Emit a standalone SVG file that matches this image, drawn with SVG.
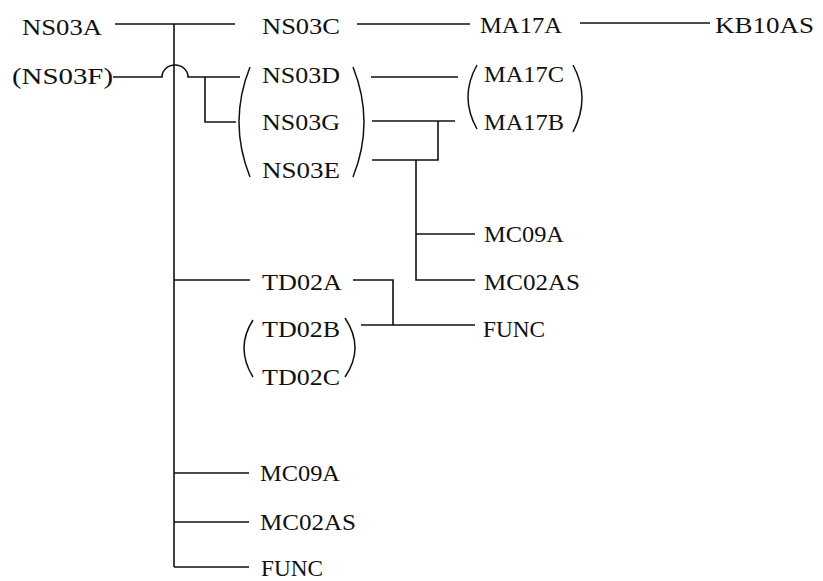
<svg xmlns="http://www.w3.org/2000/svg" width="823" height="581" viewBox="0 0 823 581">
<style>
text{font-family:"Liberation Serif","Times New Roman",serif;font-size:24px;fill:#111}
.c{fill:none;stroke:#111;stroke-width:1.6}
.p{fill:none;stroke:#111;stroke-width:1.5}
</style>
<rect width="823" height="581" fill="#fff"/>
<g id="connectors">
<path class="c" d="M174 24V567"/>
<path class="c" d="M115 24H235"/>
<path class="c" d="M357 24H470"/>
<path class="c" d="M580 23H710"/>
<path class="c" d="M113 77H162A13 12 0 0 1 188 77H240"/>
<path class="c" d="M205 77V122H236"/>
<path class="c" d="M371 77H458"/>
<path class="c" d="M372 121H455"/>
<path class="c" d="M438 121V160H372"/>
<path class="c" d="M416 160V280H475"/>
<path class="c" d="M416 234H475"/>
<path class="c" d="M174 280H250"/>
<path class="c" d="M353 280H393V325"/>
<path class="c" d="M361 325H475"/>
<path class="c" d="M174 473H249"/>
<path class="c" d="M174 522H249"/>
<path class="c" d="M174 567H249"/>
</g>
<g id="NS03A"><text x="22" y="35" textLength="80" lengthAdjust="spacingAndGlyphs">NS03A</text></g>
<g id="NS03F"><text x="12" y="84" textLength="101" lengthAdjust="spacingAndGlyphs">(NS03F)</text></g>
<g id="NS03C"><text x="262" y="34" textLength="78" lengthAdjust="spacingAndGlyphs">NS03C</text></g>
<g id="MA17A"><text x="480" y="33" textLength="82" lengthAdjust="spacingAndGlyphs">MA17A</text></g>
<g id="KB10AS"><text x="715" y="33" textLength="99" lengthAdjust="spacingAndGlyphs">KB10AS</text></g>
<g id="NS03DGE">
<path class="p" d="M250 67Q228 122 250 177"/>
<path class="p" d="M353 67Q375 122 353 177"/>
<text x="262" y="83" textLength="78" lengthAdjust="spacingAndGlyphs">NS03D</text>
<text x="262" y="130" textLength="78" lengthAdjust="spacingAndGlyphs">NS03G</text>
<text x="262" y="178" textLength="78" lengthAdjust="spacingAndGlyphs">NS03E</text>
</g>
<g id="MA17CB">
<path class="p" d="M477 65Q459 97 477 129"/>
<path class="p" d="M573 65Q591 98 573 132"/>
<text x="484" y="82" textLength="80" lengthAdjust="spacingAndGlyphs">MA17C</text>
<text x="484" y="130" textLength="80" lengthAdjust="spacingAndGlyphs">MA17B</text>
</g>
<g id="MC09A-r"><text x="484" y="242" textLength="80" lengthAdjust="spacingAndGlyphs">MC09A</text></g>
<g id="MC02AS-r"><text x="484" y="290" textLength="96" lengthAdjust="spacingAndGlyphs">MC02AS</text></g>
<g id="TD02A"><text x="262" y="290" textLength="80" lengthAdjust="spacingAndGlyphs">TD02A</text></g>
<g id="TD02BC">
<path class="p" d="M253 320Q235 348 253 377"/>
<path class="p" d="M345 318Q365 348 345 377"/>
<text x="262" y="337" textLength="78" lengthAdjust="spacingAndGlyphs">TD02B</text>
<text x="262" y="385" textLength="78" lengthAdjust="spacingAndGlyphs">TD02C</text>
</g>
<g id="FUNC-r"><text x="483" y="337" textLength="62" lengthAdjust="spacingAndGlyphs">FUNC</text></g>
<g id="MC09A-b"><text x="260" y="481" textLength="80" lengthAdjust="spacingAndGlyphs">MC09A</text></g>
<g id="MC02AS-b"><text x="260" y="530" textLength="96" lengthAdjust="spacingAndGlyphs">MC02AS</text></g>
<g id="FUNC-b"><text x="261" y="576" textLength="62" lengthAdjust="spacingAndGlyphs">FUNC</text></g>
</svg>
